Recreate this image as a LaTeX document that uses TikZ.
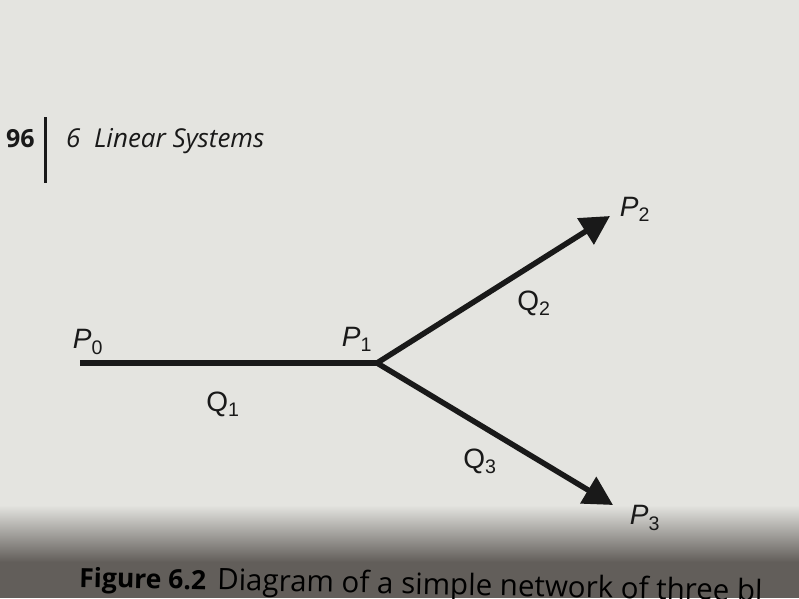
\documentclass[tikz,border=0pt]{standalone}
\usepackage{fontspec}
\setmainfont{Liberation Sans}
\newfontfamily\capfont{Open Sans}
\usetikzlibrary{arrows.meta}
\definecolor{paper}{RGB}{228,228,224}
\definecolor{ink}{RGB}{25,25,25}
\definecolor{shadow}{RGB}{98,94,90}
\tikzset{
  pipe/.style={line width=5.5pt, draw=ink},
  flow/.style={pipe, -{Triangle[length=29pt,width=30pt]}},
  lab/.style={inner sep=0pt, text=ink, font=\fontsize{28}{30}\selectfont},
}
\begin{document}
\begin{tikzpicture}[x=1pt,y=-1pt]
\useasboundingbox (0,0) rectangle (799,598);
\fill[paper] (0,0) rectangle (799,598);
\shade[top color=paper, bottom color=shadow] (0,505) rectangle (799,562);
\fill[shadow] (0,562) rectangle (799,598);
% header
\node[lab, anchor=base west, font=\capfont\fontsize{25}{27}\selectfont\bfseries] (pg) at (6,147) {96};
\draw[line width=3pt, ink] (45.5,117) -- (45.5,183);
\node[lab, anchor=base west, font=\capfont\fontsize{26}{28}\selectfont\itshape] (hd) at (66,147) {6\ \ Linear Systems};
% network
\coordinate (P0) at (80,363);
\coordinate (P1) at (377,363);
\coordinate (P2) at (610,216);
\coordinate (P3) at (613,505);
\draw[pipe, line cap=butt] (P0) -- (P1);
\draw[flow] (P1) -- (P2);
\draw[flow] (P1) -- (P3);
\node[lab] (lp0) at (88,342) {\textit{P}\textsubscript{0}};
\node[lab] (lp1) at (357,339) {\textit{P}\textsubscript{1}};
\node[lab] (lp2) at (635,209) {\textit{P}\textsubscript{2}};
\node[lab] (lp3) at (645,518) {\textit{P}\textsubscript{3}};
\node[lab] (lq1) at (223,404) {Q\textsubscript{1}};
\node[lab] (lq2) at (534,303) {Q\textsubscript{2}};
\node[lab] (lq3) at (480,461) {Q\textsubscript{3}};
% caption
\begin{scope}
\clip (0,0) rectangle (799,598);
\node[lab, anchor=base west, text=black, rotate=-1.2, font=\capfont\fontsize{29.5}{32}\selectfont] (cap) at (79,587) {{\fontsize{26.5}{28}\selectfont\bfseries Figure 6.2}\hspace{11pt}Diagram of a simple network of three bl};
\end{scope}
\end{tikzpicture}
\end{document}
